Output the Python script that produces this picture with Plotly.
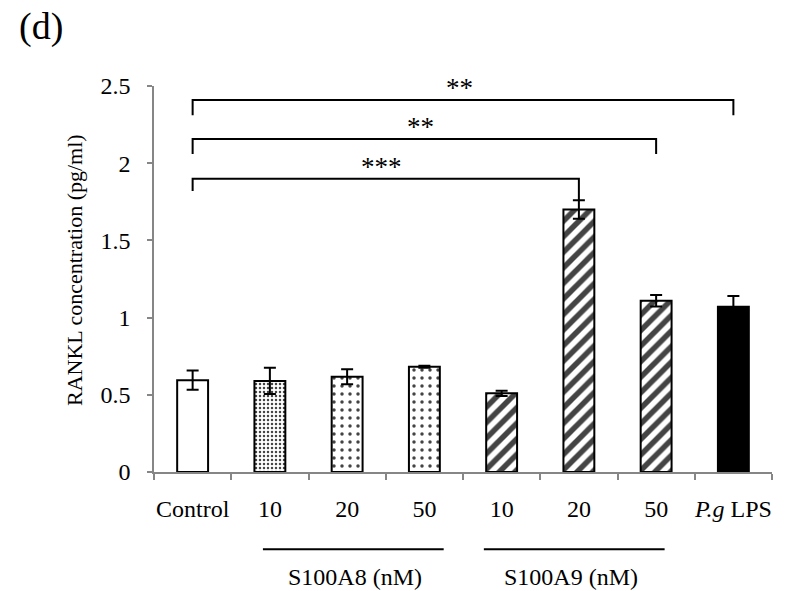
import plotly.graph_objects as go

# ---- data ----
tick_labels = ["Control", "10", "20", "50", "10", "20", "50", "<i>P.g</i> LPS"]
values = [0.595, 0.59, 0.617, 0.682, 0.51, 1.70, 1.109, 1.07]
errors = [0.062, 0.085, 0.048, 0.006, 0.017, 0.06, 0.037, 0.07]

# significance comparisons: (from index, to index, label)
comp_from = [0, 0, 0]
comp_to = [5, 6, 7]
comp_text = ["***", "**", "**"]
comp_top = [1.90, 2.157, 2.41]
comp_left_bottom = [1.82, 2.06, 2.31]
comp_right_bottom = [1.76, 2.06, 2.31]

group_names = ["S100A8 (nM)", "S100A9 (nM)"]
group_line_start = [0.91, 3.77]
group_line_end = [3.25, 6.11]
group_text_x = [2.1, 4.9]

FONT = "Liberation Serif, Times New Roman, serif"
AXIS_GRAY = "#868686"

x = list(range(len(values)))

pattern_shapes = ["", ".", ".", ".", "/", "/", "/", ""]
pattern_sizes = [8, 4, 8, 8, 11, 11, 11, 8]
pattern_solid = [0.2, 0.3, 0.15, 0.15, 0.5, 0.5, 0.5, 0.2]
bar_colors = ["white"] * 7 + ["black"]

fig = go.Figure()
fig.add_trace(go.Bar(
    x=x, y=values, width=0.4,
    marker=dict(
        color=bar_colors,
        line=dict(color="black", width=2),
        pattern=dict(shape=pattern_shapes, size=pattern_sizes, solidity=pattern_solid,
                     fgcolor="black", fgopacity=1, fillmode="overlay"),
    ),
    error_y=dict(type="data", array=errors, visible=True, color="black", thickness=2, width=6),
    showlegend=False,
))

shapes = []
annotations = []
for a, b, t, top, lb, rb in zip(comp_from, comp_to, comp_text, comp_top, comp_left_bottom, comp_right_bottom):
    shapes.append(dict(type="path", xref="x", yref="y",
                       path=f"M {a},{lb} L {a},{top} L {b},{top} L {b},{rb}",
                       line=dict(color="black", width=2)))
    annotations.append(dict(x=(a + b) / 2 - 0.05, y=top - 0.035, xref="x", yref="y", text=t,
                            showarrow=False, xanchor="center", yanchor="bottom",
                            font=dict(family=FONT, size=27, color="black")))

for name, x0, x1, tx in zip(group_names, group_line_start, group_line_end, group_text_x):
    shapes.append(dict(type="line", xref="x", yref="paper", x0=x0, x1=x1, y0=-0.2, y1=-0.2,
                       line=dict(color="black", width=2)))
    annotations.append(dict(x=tx, y=-0.272, xref="x", yref="paper", text=name, showarrow=False,
                            xanchor="center", yanchor="middle",
                            font=dict(family=FONT, size=24, color="black")))

annotations.append(dict(x=-0.129, y=0.524, xref="paper", yref="paper", text="RANKL concentration (pg/ml)",
                        textangle=-90, showarrow=False, xanchor="center", yanchor="middle",
                        font=dict(family=FONT, size=22, color="black")))
annotations.append(dict(x=-0.183, y=1.155, xref="paper", yref="paper", text="(d)", showarrow=False,
                        xanchor="center", yanchor="middle",
                        font=dict(family=FONT, size=38, color="black")))

fig.update_layout(
    width=797, height=591,
    margin=dict(l=154, r=25, t=86, b=119),
    plot_bgcolor="white", paper_bgcolor="white",
    font=dict(family=FONT, size=24, color="black"),
    shapes=shapes, annotations=annotations,
    bargap=0.6,
)
fig.update_xaxes(
    range=[-0.5, 7.5], tickmode="array", tickvals=x, ticktext=tick_labels,
    ticks="", showline=True, linecolor=AXIS_GRAY, linewidth=1.5, showgrid=False, zeroline=False,
    tickfont=dict(family=FONT, size=24, color="black"), ticklabelstandoff=14,
    minor=dict(tickmode="array", tickvals=[i - 0.5 for i in range(len(values) + 1)],
               ticks="outside", ticklen=6, tickcolor=AXIS_GRAY, tickwidth=1.5, showgrid=False),
)
fig.update_yaxes(
    range=[0, 2.5], tickmode="array", tickvals=[0, 0.5, 1, 1.5, 2, 2.5],
    ticktext=["0", "0.5", "1", "1.5", "2", "2.5"],
    ticks="outside", ticklen=5, tickcolor=AXIS_GRAY, tickwidth=1.5,
    showline=True, linecolor=AXIS_GRAY, linewidth=1.5, showgrid=False, zeroline=False,
    tickfont=dict(family=FONT, size=24, color="black"), ticklabelstandoff=12,
)

fig.write_html("out.html", config={"displayModeBar": False},
               post_script="document.body.style.margin='0';")
